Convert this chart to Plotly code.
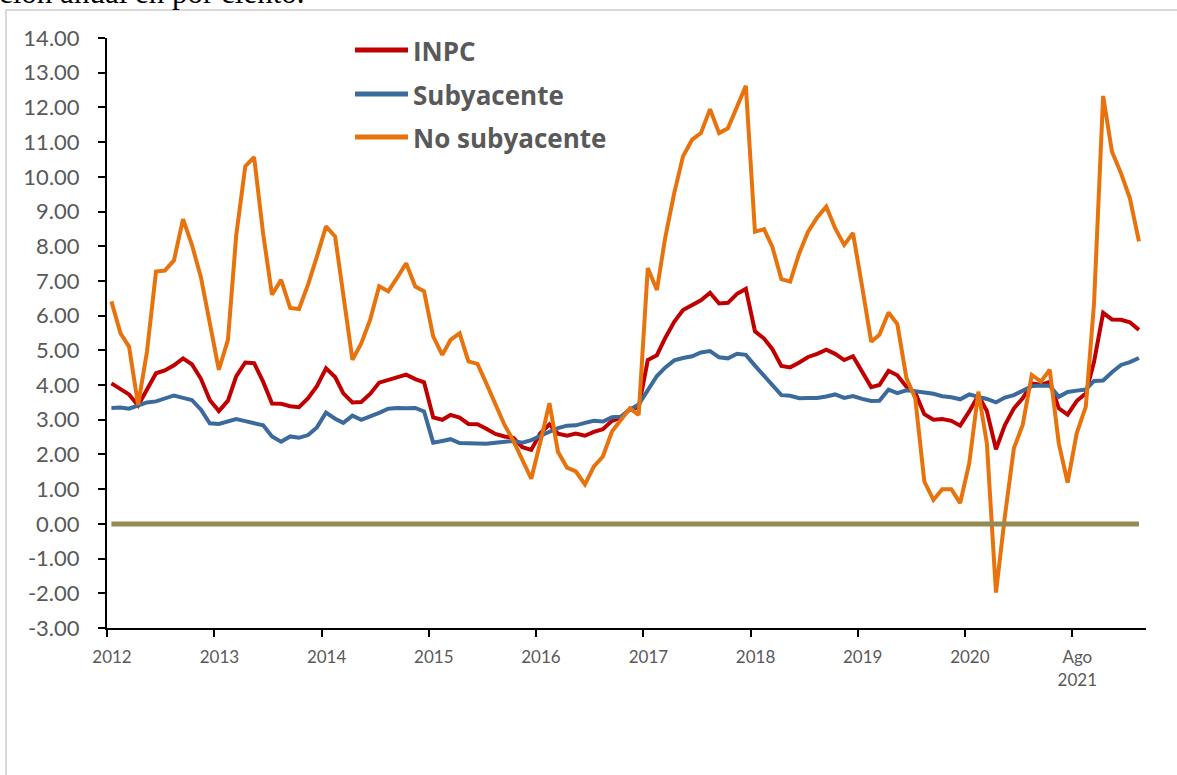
import pandas as pd
import plotly.graph_objects as go

# Inflación anual (%), enero 2012 - agosto 2021
inpc = [4.05, 3.87, 3.73, 3.41, 3.85, 4.34, 4.42, 4.57, 4.77, 4.60, 4.18, 3.57,
        3.25, 3.55, 4.25, 4.65, 4.63, 4.09, 3.47, 3.46, 3.39, 3.36, 3.62, 3.97,
        4.48, 4.23, 3.76, 3.50, 3.51, 3.75, 4.07, 4.15, 4.22, 4.30, 4.17, 4.08,
        3.07, 3.00, 3.14, 3.06, 2.88, 2.87, 2.74, 2.59, 2.52, 2.48, 2.21, 2.13,
        2.61, 2.87, 2.60, 2.54, 2.60, 2.54, 2.65, 2.73, 2.97, 3.06, 3.31, 3.36,
        4.72, 4.86, 5.35, 5.82, 6.16, 6.31, 6.44, 6.66, 6.35, 6.37, 6.63, 6.77,
        5.55, 5.34, 5.04, 4.55, 4.51, 4.65, 4.81, 4.90, 5.02, 4.90, 4.72, 4.83,
        4.37, 3.94, 4.00, 4.41, 4.28, 3.95, 3.78, 3.16, 3.00, 3.02, 2.97, 2.83,
        3.24, 3.70, 3.25, 2.15, 2.84, 3.33, 3.62, 4.05, 4.01, 4.09, 3.33, 3.15,
        3.54, 3.76, 4.67, 6.08, 5.89, 5.88, 5.81, 5.59]

subyacente = [3.34, 3.35, 3.32, 3.41, 3.50, 3.53, 3.61, 3.70, 3.63, 3.57, 3.29, 2.90,
              2.88, 2.96, 3.02, 2.96, 2.89, 2.84, 2.52, 2.37, 2.52, 2.48, 2.56, 2.78,
              3.21, 3.03, 2.91, 3.12, 3.00, 3.09, 3.20, 3.32, 3.34, 3.33, 3.34, 3.24,
              2.34, 2.39, 2.44, 2.33, 2.32, 2.33, 2.31, 2.34, 2.38, 2.39, 2.34, 2.41,
              2.54, 2.66, 2.76, 2.83, 2.84, 2.91, 2.97, 2.95, 3.07, 3.09, 3.29, 3.44,
              3.84, 4.26, 4.50, 4.71, 4.78, 4.83, 4.94, 4.98, 4.80, 4.77, 4.90, 4.87,
              4.56, 4.27, 4.02, 3.71, 3.69, 3.62, 3.63, 3.63, 3.67, 3.73, 3.63, 3.68,
              3.60, 3.54, 3.55, 3.87, 3.77, 3.85, 3.82, 3.78, 3.75, 3.68, 3.65, 3.59,
              3.73, 3.66, 3.60, 3.50, 3.64, 3.71, 3.85, 3.97, 3.99, 3.98, 3.66, 3.80,
              3.84, 3.87, 4.12, 4.13, 4.37, 4.58, 4.66, 4.78]

no_subyacente = [6.41, 5.49, 5.11, 3.43, 4.95, 7.27, 7.30, 7.59, 8.78, 8.05, 7.10, 5.75,
                 4.44, 5.30, 8.30, 10.30, 10.57, 8.35, 6.60, 7.03, 6.22, 6.19, 6.90, 7.70,
                 8.57, 8.28, 6.60, 4.73, 5.20, 5.90, 6.85, 6.70, 7.10, 7.51, 6.84, 6.70,
                 5.40, 4.87, 5.30, 5.49, 4.68, 4.61, 4.05, 3.45, 2.85, 2.40, 1.85, 1.30,
                 2.35, 3.48, 2.08, 1.62, 1.51, 1.14, 1.65, 1.94, 2.66, 3.00, 3.33, 3.14,
                 7.37, 6.74, 8.23, 9.53, 10.59, 11.07, 11.26, 11.95, 11.26, 11.40, 12.05, 12.62,
                 8.42, 8.49, 7.99, 7.05, 6.98, 7.80, 8.42, 8.83, 9.14, 8.52, 8.04, 8.38,
                 6.84, 5.25, 5.45, 6.09, 5.76, 4.20, 3.62, 1.22, 0.69, 1.00, 1.00, 0.60,
                 1.75, 3.81, 2.32, -1.98, 0.20, 2.18, 2.85, 4.29, 4.10, 4.44, 2.32, 1.19,
                 2.61, 3.38, 6.35, 12.33, 10.73, 10.10, 9.39, 8.14]

fechas = pd.date_range('2012-01-01', periods=len(inpc), freq='MS') + pd.Timedelta(days=15)
cero = [0.0] * len(inpc)

tick_fechas = pd.date_range('2012-01-01', '2021-01-01', freq='YS')
tick_textos = ['2012', '2013', '2014', '2015', '2016', '2017', '2018', '2019', '2020', 'Ago<br>2021']
y_ticks = list(range(-3, 15))

series = [('INPC', inpc, '#C00000'),
          ('Subyacente', subyacente, '#3B6A9C'),
          ('No subyacente', no_subyacente, '#E8720C')]

W, H = 1177, 775
L, R, T, B = 107, 31, 38, 147
pw, ph = W - L - R, H - T - B


def px_x(px):
    return (px - L) / pw


def px_y(py):
    return (H - B - py) / ph


fig = go.Figure()

for name, values, color in series:
    fig.add_trace(go.Scatter(x=fechas, y=values, name=name, mode='lines',
                             line=dict(color=color, width=4), showlegend=False))

fig.add_trace(go.Scatter(x=fechas, y=cero, mode='lines',
                         line=dict(color='#948A54', width=5), showlegend=False))

# leyenda dibujada a mano
for (name, values, color), py in zip(series, [50, 94, 137]):
    fig.add_shape(type='line', xref='paper', yref='paper',
                  x0=px_x(355), x1=px_x(408), y0=px_y(py), y1=px_y(py),
                  line=dict(color=color, width=5))
    fig.add_annotation(xref='paper', yref='paper', x=px_x(411), y=px_y(py + 1),
                       xanchor='left', yanchor='middle', showarrow=False,
                       text='<b>' + name + '</b>',
                       font=dict(family='Open Sans', size=26, color='#595959'))

# marco del gráfico
fig.add_shape(type='rect', xref='paper', yref='paper',
              x0=px_x(6), x1=px_x(1190), y0=px_y(800), y1=px_y(10),
              line=dict(color='#D9D9D9', width=2), fillcolor='rgba(0,0,0,0)', layer='below')

# resto del título del documento, cortado por arriba
fig.add_annotation(xref='paper', yref='paper', x=px_x(-3), y=px_y(12),
                   xanchor='left', yanchor='bottom', showarrow=False,
                   text='ción anual en por ciento.',
                   font=dict(family='Liberation Serif', size=31, color='black'))

fig.update_xaxes(type='date', range=['2012-01-01', '2021-09-09'],
                 tickvals=tick_fechas, ticktext=tick_textos,
                 ticks='outside', ticklen=7, tickwidth=2, tickcolor='black',
                 showline=True, linecolor='black', linewidth=2,
                 showgrid=False, zeroline=False,
                 tickfont=dict(family='Lato', size=17, color='#595959'),
                 ticklabelshift=5, ticklabelstandoff=6)

fig.update_yaxes(range=[-3, 14], tickvals=y_ticks,
                 ticktext=[f'{v:.2f}' for v in y_ticks],
                 ticks='outside', ticklen=7, tickwidth=2, tickcolor='black',
                 showline=True, linecolor='black', linewidth=2,
                 showgrid=False, zeroline=False,
                 tickfont=dict(family='Lato', size=22, color='#595959'),
                 ticklabelstandoff=14)

fig.update_layout(width=W, height=H,
                  margin=dict(l=L, r=R, t=T, b=B),
                  paper_bgcolor='white', plot_bgcolor='white',
                  showlegend=False)

# sin margen de página, para que la figura ocupe la ventana entera
fig.write_html('out.html', config={'displayModeBar': False},
               post_script="document.body.style.margin='0';document.body.style.overflow='hidden';")
